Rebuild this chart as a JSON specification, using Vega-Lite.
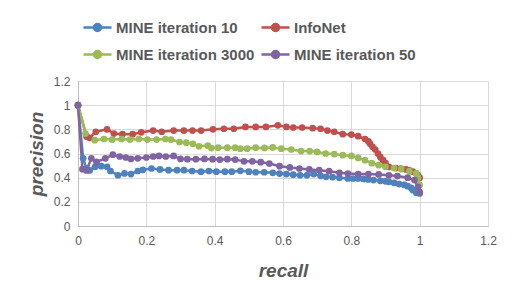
{
  "$schema": "https://vega.github.io/schema/vega-lite/v6.json",
  "autosize": "none",
  "width": 410,
  "height": 145,
  "padding": {"left": 78, "top": 81, "right": 25, "bottom": 75},
  "background": "white",
  "config": {
    "view": {"stroke": null},
    "font": "Liberation Sans"
  },
  "datasets": {
    "pts": [
      {"s":"MINE iteration 10","x":0,"y":1.0},{"s":"MINE iteration 10","x":0.015,"y":0.56},{"s":"MINE iteration 10","x":0.025,"y":0.475},{"s":"MINE iteration 10","x":0.034,"y":0.46},{"s":"MINE iteration 10","x":0.05,"y":0.49},{"s":"MINE iteration 10","x":0.068,"y":0.495},{"s":"MINE iteration 10","x":0.085,"y":0.49},{"s":"MINE iteration 10","x":0.095,"y":0.455},{"s":"MINE iteration 10","x":0.117,"y":0.42},{"s":"MINE iteration 10","x":0.136,"y":0.435},{"s":"MINE iteration 10","x":0.155,"y":0.43},{"s":"MINE iteration 10","x":0.175,"y":0.455},{"s":"MINE iteration 10","x":0.19,"y":0.465},{"s":"MINE iteration 10","x":0.215,"y":0.476},{"s":"MINE iteration 10","x":0.24,"y":0.468},{"s":"MINE iteration 10","x":0.265,"y":0.462},{"s":"MINE iteration 10","x":0.29,"y":0.462},{"s":"MINE iteration 10","x":0.31,"y":0.462},{"s":"MINE iteration 10","x":0.334,"y":0.455},{"s":"MINE iteration 10","x":0.36,"y":0.45},{"s":"MINE iteration 10","x":0.383,"y":0.455},{"s":"MINE iteration 10","x":0.405,"y":0.45},{"s":"MINE iteration 10","x":0.43,"y":0.45},{"s":"MINE iteration 10","x":0.45,"y":0.45},{"s":"MINE iteration 10","x":0.475,"y":0.457},{"s":"MINE iteration 10","x":0.5,"y":0.45},{"s":"MINE iteration 10","x":0.52,"y":0.445},{"s":"MINE iteration 10","x":0.545,"y":0.445},{"s":"MINE iteration 10","x":0.57,"y":0.44},{"s":"MINE iteration 10","x":0.59,"y":0.434},{"s":"MINE iteration 10","x":0.61,"y":0.43},{"s":"MINE iteration 10","x":0.63,"y":0.425},{"s":"MINE iteration 10","x":0.65,"y":0.42},{"s":"MINE iteration 10","x":0.67,"y":0.42},{"s":"MINE iteration 10","x":0.69,"y":0.43},{"s":"MINE iteration 10","x":0.71,"y":0.415},{"s":"MINE iteration 10","x":0.726,"y":0.407},{"s":"MINE iteration 10","x":0.745,"y":0.405},{"s":"MINE iteration 10","x":0.765,"y":0.4},{"s":"MINE iteration 10","x":0.79,"y":0.393},{"s":"MINE iteration 10","x":0.805,"y":0.393},{"s":"MINE iteration 10","x":0.82,"y":0.393},{"s":"MINE iteration 10","x":0.835,"y":0.39},{"s":"MINE iteration 10","x":0.85,"y":0.385},{"s":"MINE iteration 10","x":0.865,"y":0.38},{"s":"MINE iteration 10","x":0.885,"y":0.374},{"s":"MINE iteration 10","x":0.9,"y":0.37},{"s":"MINE iteration 10","x":0.91,"y":0.366},{"s":"MINE iteration 10","x":0.925,"y":0.357},{"s":"MINE iteration 10","x":0.94,"y":0.347},{"s":"MINE iteration 10","x":0.955,"y":0.34},{"s":"MINE iteration 10","x":0.965,"y":0.33},{"s":"MINE iteration 10","x":0.975,"y":0.315},{"s":"MINE iteration 10","x":0.98,"y":0.297},{"s":"MINE iteration 10","x":0.99,"y":0.275},{"s":"MINE iteration 10","x":1.0,"y":0.27},
      {"s":"InfoNet","x":0,"y":1.0},{"s":"InfoNet","x":0.025,"y":0.74},{"s":"InfoNet","x":0.034,"y":0.73},{"s":"InfoNet","x":0.052,"y":0.78},{"s":"InfoNet","x":0.085,"y":0.8},{"s":"InfoNet","x":0.105,"y":0.765},{"s":"InfoNet","x":0.13,"y":0.76},{"s":"InfoNet","x":0.16,"y":0.76},{"s":"InfoNet","x":0.185,"y":0.775},{"s":"InfoNet","x":0.22,"y":0.79},{"s":"InfoNet","x":0.245,"y":0.78},{"s":"InfoNet","x":0.28,"y":0.79},{"s":"InfoNet","x":0.31,"y":0.79},{"s":"InfoNet","x":0.335,"y":0.79},{"s":"InfoNet","x":0.36,"y":0.79},{"s":"InfoNet","x":0.395,"y":0.8},{"s":"InfoNet","x":0.427,"y":0.805},{"s":"InfoNet","x":0.456,"y":0.805},{"s":"InfoNet","x":0.49,"y":0.82},{"s":"InfoNet","x":0.52,"y":0.82},{"s":"InfoNet","x":0.55,"y":0.82},{"s":"InfoNet","x":0.585,"y":0.833},{"s":"InfoNet","x":0.61,"y":0.82},{"s":"InfoNet","x":0.63,"y":0.815},{"s":"InfoNet","x":0.656,"y":0.815},{"s":"InfoNet","x":0.687,"y":0.81},{"s":"InfoNet","x":0.71,"y":0.805},{"s":"InfoNet","x":0.73,"y":0.79},{"s":"InfoNet","x":0.75,"y":0.78},{"s":"InfoNet","x":0.775,"y":0.76},{"s":"InfoNet","x":0.8,"y":0.757},{"s":"InfoNet","x":0.82,"y":0.743},{"s":"InfoNet","x":0.84,"y":0.72},{"s":"InfoNet","x":0.85,"y":0.7},{"s":"InfoNet","x":0.855,"y":0.68},{"s":"InfoNet","x":0.862,"y":0.655},{"s":"InfoNet","x":0.87,"y":0.633},{"s":"InfoNet","x":0.878,"y":0.6},{"s":"InfoNet","x":0.885,"y":0.57},{"s":"InfoNet","x":0.893,"y":0.545},{"s":"InfoNet","x":0.9,"y":0.52},{"s":"InfoNet","x":0.91,"y":0.49},{"s":"InfoNet","x":0.93,"y":0.48},{"s":"InfoNet","x":0.945,"y":0.475},{"s":"InfoNet","x":0.96,"y":0.468},{"s":"InfoNet","x":0.97,"y":0.46},{"s":"InfoNet","x":0.98,"y":0.45},{"s":"InfoNet","x":0.99,"y":0.435},{"s":"InfoNet","x":0.995,"y":0.42},{"s":"InfoNet","x":1.0,"y":0.4},
      {"s":"MINE iteration 3000","x":0,"y":1.0},{"s":"MINE iteration 3000","x":0.022,"y":0.765},{"s":"MINE iteration 3000","x":0.049,"y":0.71},{"s":"MINE iteration 3000","x":0.076,"y":0.72},{"s":"MINE iteration 3000","x":0.1,"y":0.715},{"s":"MINE iteration 3000","x":0.128,"y":0.72},{"s":"MINE iteration 3000","x":0.152,"y":0.715},{"s":"MINE iteration 3000","x":0.178,"y":0.72},{"s":"MINE iteration 3000","x":0.203,"y":0.715},{"s":"MINE iteration 3000","x":0.23,"y":0.715},{"s":"MINE iteration 3000","x":0.256,"y":0.72},{"s":"MINE iteration 3000","x":0.272,"y":0.715},{"s":"MINE iteration 3000","x":0.297,"y":0.695},{"s":"MINE iteration 3000","x":0.317,"y":0.69},{"s":"MINE iteration 3000","x":0.336,"y":0.68},{"s":"MINE iteration 3000","x":0.354,"y":0.66},{"s":"MINE iteration 3000","x":0.38,"y":0.665},{"s":"MINE iteration 3000","x":0.39,"y":0.645},{"s":"MINE iteration 3000","x":0.41,"y":0.648},{"s":"MINE iteration 3000","x":0.437,"y":0.648},{"s":"MINE iteration 3000","x":0.46,"y":0.648},{"s":"MINE iteration 3000","x":0.475,"y":0.64},{"s":"MINE iteration 3000","x":0.495,"y":0.64},{"s":"MINE iteration 3000","x":0.52,"y":0.648},{"s":"MINE iteration 3000","x":0.546,"y":0.646},{"s":"MINE iteration 3000","x":0.57,"y":0.65},{"s":"MINE iteration 3000","x":0.595,"y":0.64},{"s":"MINE iteration 3000","x":0.624,"y":0.633},{"s":"MINE iteration 3000","x":0.653,"y":0.62},{"s":"MINE iteration 3000","x":0.678,"y":0.62},{"s":"MINE iteration 3000","x":0.7,"y":0.613},{"s":"MINE iteration 3000","x":0.725,"y":0.6},{"s":"MINE iteration 3000","x":0.75,"y":0.595},{"s":"MINE iteration 3000","x":0.775,"y":0.586},{"s":"MINE iteration 3000","x":0.8,"y":0.58},{"s":"MINE iteration 3000","x":0.82,"y":0.563},{"s":"MINE iteration 3000","x":0.84,"y":0.545},{"s":"MINE iteration 3000","x":0.86,"y":0.52},{"s":"MINE iteration 3000","x":0.88,"y":0.503},{"s":"MINE iteration 3000","x":0.9,"y":0.49},{"s":"MINE iteration 3000","x":0.925,"y":0.48},{"s":"MINE iteration 3000","x":0.946,"y":0.47},{"s":"MINE iteration 3000","x":0.97,"y":0.454},{"s":"MINE iteration 3000","x":0.99,"y":0.435},{"s":"MINE iteration 3000","x":0.995,"y":0.4},{"s":"MINE iteration 3000","x":1.0,"y":0.34},
      {"s":"MINE iteration 50","x":0,"y":1.0},{"s":"MINE iteration 50","x":0.013,"y":0.47},{"s":"MINE iteration 50","x":0.025,"y":0.46},{"s":"MINE iteration 50","x":0.039,"y":0.56},{"s":"MINE iteration 50","x":0.054,"y":0.53},{"s":"MINE iteration 50","x":0.08,"y":0.56},{"s":"MINE iteration 50","x":0.102,"y":0.59},{"s":"MINE iteration 50","x":0.122,"y":0.575},{"s":"MINE iteration 50","x":0.14,"y":0.567},{"s":"MINE iteration 50","x":0.155,"y":0.555},{"s":"MINE iteration 50","x":0.175,"y":0.56},{"s":"MINE iteration 50","x":0.2,"y":0.567},{"s":"MINE iteration 50","x":0.22,"y":0.575},{"s":"MINE iteration 50","x":0.237,"y":0.58},{"s":"MINE iteration 50","x":0.257,"y":0.575},{"s":"MINE iteration 50","x":0.28,"y":0.58},{"s":"MINE iteration 50","x":0.3,"y":0.555},{"s":"MINE iteration 50","x":0.32,"y":0.553},{"s":"MINE iteration 50","x":0.345,"y":0.553},{"s":"MINE iteration 50","x":0.37,"y":0.555},{"s":"MINE iteration 50","x":0.394,"y":0.553},{"s":"MINE iteration 50","x":0.415,"y":0.55},{"s":"MINE iteration 50","x":0.437,"y":0.553},{"s":"MINE iteration 50","x":0.46,"y":0.55},{"s":"MINE iteration 50","x":0.486,"y":0.535},{"s":"MINE iteration 50","x":0.51,"y":0.535},{"s":"MINE iteration 50","x":0.535,"y":0.528},{"s":"MINE iteration 50","x":0.56,"y":0.517},{"s":"MINE iteration 50","x":0.59,"y":0.495},{"s":"MINE iteration 50","x":0.62,"y":0.485},{"s":"MINE iteration 50","x":0.648,"y":0.476},{"s":"MINE iteration 50","x":0.677,"y":0.468},{"s":"MINE iteration 50","x":0.706,"y":0.462},{"s":"MINE iteration 50","x":0.735,"y":0.454},{"s":"MINE iteration 50","x":0.765,"y":0.44},{"s":"MINE iteration 50","x":0.79,"y":0.434},{"s":"MINE iteration 50","x":0.82,"y":0.43},{"s":"MINE iteration 50","x":0.85,"y":0.43},{"s":"MINE iteration 50","x":0.88,"y":0.427},{"s":"MINE iteration 50","x":0.91,"y":0.42},{"s":"MINE iteration 50","x":0.935,"y":0.413},{"s":"MINE iteration 50","x":0.965,"y":0.4},{"s":"MINE iteration 50","x":0.985,"y":0.38},{"s":"MINE iteration 50","x":0.995,"y":0.325},{"s":"MINE iteration 50","x":1.0,"y":0.28}
    ]
  },
  "data": {"name": "pts"},
  "encoding": {
    "x": {
      "field": "x", "type": "quantitative",
      "scale": {"domain": [0, 1.2], "nice": false, "zero": false},
      "axis": {
        "values": [0, 0.2, 0.4, 0.6, 0.8, 1, 1.2], "format": "~g",
        "title": "recall", "titleFontSize": 19, "titleFontWeight": "bold", "titleFontStyle": "italic",
        "titleColor": "#595959", "titleX": 205, "titleY": 44, "titleBaseline": "middle", "titleAlign": "center",
        "labelFontSize": 12, "labelColor": "#595959", "labelPadding": 9, "ticks": false,
        "domainColor": "#bfbfbf", "gridColor": "#d9d9d9", "grid": true, "labelFlush": false
      }
    },
    "y": {
      "field": "y", "type": "quantitative",
      "scale": {"domain": [0, 1.2], "nice": false, "zero": false},
      "axis": {
        "values": [0, 0.2, 0.4, 0.6, 0.8, 1, 1.2], "format": "~g",
        "title": "precision", "titleFontSize": 19, "titleFontWeight": "bold", "titleFontStyle": "italic",
        "titleColor": "#595959", "titleX": -42, "titleY": 72.5, "titleBaseline": "middle", "titleAlign": "center", "titleAngle": 270,
        "labelFontSize": 12, "labelColor": "#595959", "labelPadding": 8, "ticks": false,
        "domainColor": "#bfbfbf", "gridColor": "#d9d9d9", "grid": true, "labelFlush": false
      }
    },
    "color": {
      "field": "s", "type": "nominal",
      "scale": {
        "domain": ["MINE iteration 10", "InfoNet", "MINE iteration 3000", "MINE iteration 50"],
        "range": ["#4F81BD", "#C0504D", "#9BBB59", "#8064A2"]
      },
      "legend": {
        "title": null, "orient": "none", "legendX": 4, "legendY": -69, "direction": "horizontal", "columns": 2,
        "padding": 0, "columnPadding": 1, "rowPadding": 3,
        "symbolType": "M-1,0H1M-0.25,0A0.25,0.25,0,1,0,0.25,0A0.25,0.25,0,1,0,-0.25,0Z",
        "symbolSize": 784, "symbolStrokeWidth": 2.5, "symbolOpacity": 1,
        "labelFont": "Liberation Sans", "labelFontSize": 15, "labelFontWeight": "bold", "labelColor": "#595959", "labelOffset": 3,
        "labelLimit": 300,
        "encode": {"symbols": {"update": {"fill": {"scale": "color", "field": "value"}, "stroke": {"scale": "color", "field": "value"}, "strokeWidth": {"value": 2.5}, "opacity": {"value": 1}}}}
      }
    }
  },
  "layer": [
    {"mark": {"type": "line", "strokeWidth": 2.5}},
    {"mark": {"type": "point", "filled": true, "size": 45, "opacity": 1}}
  ]
}
